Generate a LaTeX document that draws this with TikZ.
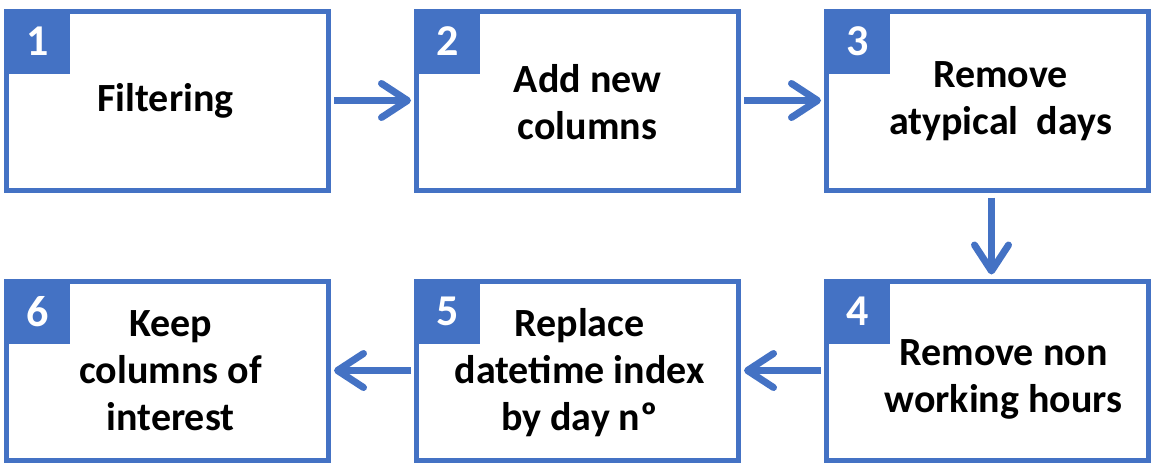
\documentclass[tikz,border=0pt]{standalone}
\usepackage{fontspec}
\setmainfont{Carlito}
\usepackage{xcolor}
\usetikzlibrary{arrows.meta,positioning}
\definecolor{stepline}{HTML}{4472C4}
\definecolor{ink}{HTML}{000000}

\begin{document}
\begin{tikzpicture}[
  x=1pt, y=1pt,
  node distance=86pt and 83pt,
  stepbox/.style={rectangle, draw=stepline, line width=5pt, fill=white,
    minimum width=322pt, minimum height=179pt, inner sep=0pt},
  numbox/.style={rectangle, fill=stepline, text=white, anchor=north west,
    minimum width=66pt, minimum height=65pt, inner sep=0pt,
    font=\fontsize{44}{44}\selectfont\bfseries},
  steptext/.style={align=center, text=ink, inner sep=0pt,
    font=\fontsize{40}{47}\selectfont\bfseries},
  arr/.style={-{Straight Barb[length=26pt, width=34pt, round]},
    line width=7pt, draw=stepline},
]
\useasboundingbox (0,0) rectangle (1155,-469);
% top row, left to right
\node[stepbox] (b1) at (167.5,-100.5) {};
\node[stepbox, right=of b1] (b2) {};
\node[stepbox, right=of b2] (b3) {};
% bottom row, right to left
\node[stepbox, below=of b3] (b4) {};
\node[stepbox, left=of b4] (b5) {};
\node[stepbox, left=of b5] (b6) {};

\node[numbox] (n1) at (b1.north west) {1};
\node[numbox] (n2) at (b2.north west) {2};
\node[numbox] (n3) at (b3.north west) {3};
\node[numbox] (n4) at (b4.north west) {4};
\node[numbox] (n5) at (b5.north west) {5};
\node[numbox] (n6) at (b6.north west) {6};

\node[steptext] (t1) at ([xshift=-2pt]b1.center) {Filtering};
\node[steptext] (t2) at ([xshift=10pt,yshift=-2pt]b2.center) {Add new\\columns};
\node[steptext] (t3) at ([xshift=13pt,yshift=-1pt]b3.center) {Remove\\atypical\ \ days};
\node[steptext] (t4) at ([xshift=16pt,yshift=-9pt]b4.center) {Remove non\\working hours};
\node[steptext] (t5) at ([xshift=2pt,yshift=-2pt]b5.center) {Replace\\datetime index\\by day nº};
\node[steptext] (t6) at ([xshift=3pt]b6.center) {Keep\\columns of\\interest};

\draw[arr] ([xshift=3pt]b1.east) -- ([xshift=-3pt]b2.west);
\draw[arr] ([xshift=3pt]b2.east) -- ([xshift=-3pt]b3.west);
\draw[arr] ([xshift=4pt,yshift=-5pt]b3.south) -- ([xshift=4pt,yshift=4pt]b4.north);
\draw[arr] ([xshift=-3pt]b4.west) -- ([xshift=3pt]b5.east);
\draw[arr] ([xshift=-3pt]b5.west) -- ([xshift=3pt]b6.east);
\end{tikzpicture}
\end{document}
